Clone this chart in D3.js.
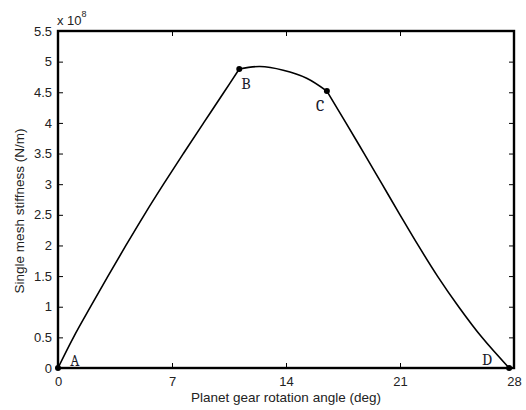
<!DOCTYPE html>
<html>
<head>
<meta charset="utf-8">
<script src="https://cdn.jsdelivr.net/npm/d3@7"></script>
<style>
  html, body { margin: 0; padding: 0; background: #fff; }
  svg { display: block; }
</style>
</head>
<body>
<svg id="chart" width="526" height="410"></svg>
<script>
// Single mesh stiffness (x 10^8 N/m) over the planet gear rotation angle (deg)
const angleAB = [0, 0.95, 2.0, 3.07, 4.17, 5.3, 6.48, 7.7, 8.94, 10.19, 11.13];
const stiffAB = [0, 0.5, 1.0, 1.5, 2.0, 2.5, 3.0, 3.5, 4.0, 4.5, 4.88];
const angleBC = [11.13, 12.4, 13.83, 15.27, 16.51];
const stiffBC = [4.88, 4.92, 4.86, 4.73, 4.52];
const angleCD = [16.51, 17.68, 18.8, 19.9, 21.0, 22.12, 23.3, 24.6, 26.03, 27.7];
const stiffCD = [4.52, 4.0, 3.5, 3.0, 2.5, 2.0, 1.5, 1.0, 0.5, 0];

// Marked points A, B, C, D
const keyNames = ["A", "B", "C", "D"];
const keyAngles = [0, 11.13, 16.51, 27.7];
const keyStiff = [0, 4.88, 4.52, 0];

const xTicks = [0, 7, 14, 21, 28];
const yTicks = [0, 0.5, 1, 1.5, 2, 2.5, 3, 3.5, 4, 4.5, 5, 5.5];

const xTitle = "Planet gear rotation angle (deg)";
const yTitle = "Single mesh stiffness (N/m)";

const svg = d3.select("#chart");
const m = { left: 58, top: 31, right: 12, bottom: 42 };
const W = 526, H = 410;
const iw = W - m.left - m.right, ih = H - m.top - m.bottom;

const x = d3.scaleLinear().domain([0, 28]).range([m.left, m.left + iw]);
const y = d3.scaleLinear().domain([0, 5.5]).range([m.top + ih, m.top]);

const tickFont = "Arial, 'Liberation Sans', sans-serif";

// Axes with inward ticks on all four sides
const fmt = d => String(d);
const axB = svg.append("g").attr("transform", `translate(0,${m.top + ih})`)
  .call(d3.axisBottom(x).tickValues(xTicks).tickSize(-5).tickPadding(9).tickFormat(fmt));
const axT = svg.append("g").attr("transform", `translate(0,${m.top})`)
  .call(d3.axisTop(x).tickValues(xTicks).tickSize(-5).tickFormat(""));
const axL = svg.append("g").attr("transform", `translate(${m.left},0)`)
  .call(d3.axisLeft(y).tickValues(yTicks).tickSize(-5).tickPadding(6).tickFormat(fmt));
const axR = svg.append("g").attr("transform", `translate(${m.left + iw},0)`)
  .call(d3.axisRight(y).tickValues(yTicks).tickSize(-5).tickFormat(""));

[axB, axT, axL, axR].forEach(g => {
  g.select(".domain").remove();
  g.selectAll(".tick line").attr("stroke", "#000").attr("stroke-width", 1);
  g.selectAll(".tick text").attr("fill", "#222").attr("font-family", tickFont).attr("font-size", 13);
});

// Frame
svg.append("rect")
  .attr("x", m.left).attr("y", m.top).attr("width", iw).attr("height", ih)
  .attr("fill", "none").attr("stroke", "#000").attr("stroke-width", 2.4);

// Curve segments
const line = d3.line().x(d => x(d[0])).y(d => y(d[1])).curve(d3.curveCatmullRom.alpha(0.5));
[[angleAB, stiffAB], [angleBC, stiffBC], [angleCD, stiffCD]].forEach(([a, s]) => {
  svg.append("path")
    .datum(a.map((v, i) => [v, s[i]]))
    .attr("d", line)
    .attr("fill", "none").attr("stroke", "#000").attr("stroke-width", 1.6);
});

// Key points
svg.selectAll("circle.key").data(keyNames).enter().append("circle")
  .attr("class", "key")
  .attr("cx", (d, i) => x(keyAngles[i])).attr("cy", (d, i) => y(keyStiff[i]))
  .attr("r", 3).attr("fill", "#000");

const labelOffsets = { A: [12, -2], B: [2, 20], C: [-11, 20], D: [-27, -3] };
svg.selectAll("text.key").data(keyNames).enter().append("text")
  .attr("class", "key")
  .attr("x", (d, i) => x(keyAngles[i]) + labelOffsets[d][0])
  .attr("y", (d, i) => y(keyStiff[i]) + labelOffsets[d][1])
  .attr("font-family", "Cambria, 'Liberation Serif', 'DejaVu Serif', serif")
  .attr("font-size", 16).attr("fill", "#1a1a2a")
  .text(d => d);

// Exponent label
const ex = svg.append("text").attr("x", m.left - 1).attr("y", 25)
  .attr("font-family", tickFont).attr("font-size", 13).attr("fill", "#222");
ex.append("tspan").text("x 10");
ex.append("tspan").attr("dy", -8).attr("font-size", 9).text("8");

// Axis titles
svg.append("text")
  .attr("x", m.left + iw / 2).attr("y", 402)
  .attr("text-anchor", "middle")
  .attr("font-family", tickFont).attr("font-size", 13.5).attr("fill", "#222")
  .text(xTitle);
svg.append("text")
  .attr("transform", `translate(24,${211}) rotate(-90)`)
  .attr("text-anchor", "middle")
  .attr("font-family", tickFont).attr("font-size", 13.5).attr("fill", "#222")
  .text(yTitle);
</script>
</body>
</html>
